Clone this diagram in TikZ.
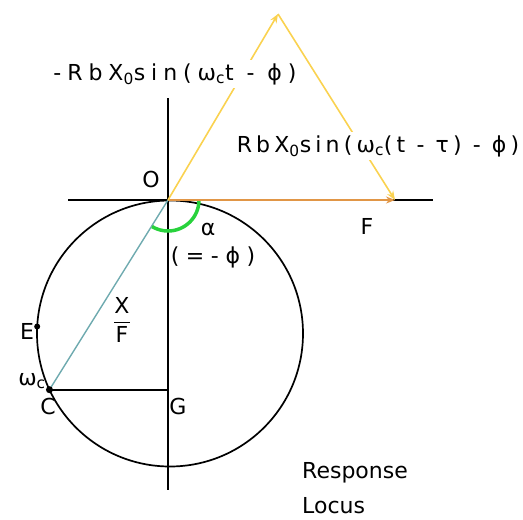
\documentclass[tikz,border=0pt]{standalone}
\usepackage{fontspec}
\setmainfont{DejaVu Sans}
\usepackage{amsmath}
\usepackage{xcolor}
\usetikzlibrary{calc}
\usetikzlibrary{arrows.meta}

\definecolor{locusteal}{RGB}{110,170,175}
\definecolor{forceorange}{RGB}{225,150,70}
\definecolor{vecyellow}{RGB}{250,210,80}
\definecolor{anglegreen}{RGB}{40,210,60}

\tikzset{
    lbl/.style={font=\fontsize{22}{27}\selectfont, inner sep=1pt},
    fml/.style={font=\fontsize{22}{27}\selectfont\addfontfeature{LetterSpace=#1}, fill=white, inner sep=3pt},
    fml/.default=20,
}

\begin{document}
\begin{tikzpicture}[x=1pt, y=-1pt, >={Stealth[length=9pt, width=7pt]}]
        \useasboundingbox (0,0) rectangle (523,520);

        % Coordinates
        \coordinate (O) at (168,200);
        \coordinate (Ctr) at (170,333.5);
        \coordinate (Xl) at (68,200);
        \coordinate (Xr) at (433,200);
        \coordinate (Yt) at (168,98);
        \coordinate (Yb) at (168,490);
        \coordinate (Apex) at (278,14);
        \coordinate (Ftip) at (395,200);
        \coordinate (C) at ($(Ctr)+(205:133pt)$);
        \coordinate (E) at ($(Ctr)+(177:133pt)$);
        \coordinate (G) at (C -| O);

        % Axes
        \draw[line width=2pt] (Xl) -- (Xr);
        \draw[line width=2pt] (Yt) -- (Yb);

        % Response locus
        \draw[line width=1.7pt] (Ctr) circle [radius=133pt];
        \draw[line width=2pt] (C) -- (G);
        \draw[locusteal, line width=1.4pt] (O) -- (C);
        \fill (C) circle [radius=3.5pt];
        \fill (E) circle [radius=3pt];

        % Angle alpha
        \draw[anglegreen, line width=3.5pt] ($(O)+(31pt,0pt)$) arc [start angle=0, end angle=-121, radius=31pt];

        % Force and the two delayed vectors
        \draw[->, forceorange, line width=2pt] (O) -- (Ftip);
        \draw[->, vecyellow, line width=1.6pt] (O) -- (Apex);
        \draw[->, vecyellow, line width=1.6pt] (Apex) -- (Ftip);

        \node[fml=27] (lblTop) at (175,74) {-RbX\textsubscript{0}sin(ω\textsubscript{c}t - ϕ)};
        \node[fml=19] (lblRight) at (378,146) {RbX\textsubscript{0}sin(ω\textsubscript{c}(t - τ) - ϕ)};

        % Point labels
        \node[lbl] (lblO) at (151,179) {O};
        \node[lbl] (lblF) at (367,226) {F};
        \node[lbl] (lblAlpha) at (208,229) {α};
        \node[fml=30, fill=none, inner sep=1pt] (lblPhi) at (213,257) {(=-ϕ)};
        \node[lbl] (lblXF) at (122,320) {\(\displaystyle\frac{\mbox{X}}{\mbox{F}}\)};
        \node[lbl] (lblE) at (27,331) {E};
        \node[lbl] (lblW) at (32,381) {ω\textsubscript{c}};
        \node[lbl] (lblC) at (48,406) {C};
        \node[lbl] (lblG) at (178,406) {G};
        \node[lbl, font=\fontsize{22}{35}\selectfont, align=left, anchor=north west] (lblLocus) at (301,461) {Response\\Locus};
    \end{tikzpicture}
\end{document}
